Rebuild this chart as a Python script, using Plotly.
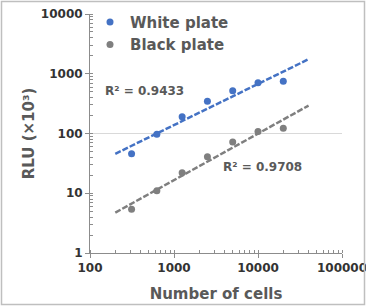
import numpy as np
import plotly.graph_objects as go

cells = [312.5, 625, 1250, 2500, 5000, 10000, 20000]
white_rlu = [46, 97, 190, 345, 520, 705, 750]
black_rlu = [5.4, 11, 22, 41, 72, 108, 122]
r2_white = "R² = 0.9433"
r2_black = "R² = 0.9708"
fit_range = [200, 40000]

BLUE = "#4472C4"
GRAY = "#7F7F7F"
TXT = "#595959"
FONT = "DejaVu Sans"


def power_fit(x, y, xr):
    b, a = np.polyfit(np.log10(x), np.log10(y), 1)
    xs = np.array(xr, dtype=float)
    return xs, 10 ** (a + b * np.log10(xs))


fig = go.Figure()
for vals, col, name in [(white_rlu, BLUE, "White plate"), (black_rlu, GRAY, "Black plate")]:
    fx, fy = power_fit(cells, vals, fit_range)
    fig.add_trace(go.Scatter(x=fx, y=fy, mode="lines", showlegend=False,
                             line=dict(color=col, width=2.5, dash="6px,2px"), hoverinfo="skip"))
for vals, col, name in [(white_rlu, BLUE, "White plate"), (black_rlu, GRAY, "Black plate")]:
    fig.add_trace(go.Scatter(x=cells, y=vals, mode="markers", name=name,
                             marker=dict(color=col, size=7)))

fig.add_hline(y=100, line=dict(color="#D9D9D9", width=1), layer="below")

fig.add_annotation(x=np.log10(143), y=np.log10(521), text=r2_white, showarrow=False,
                   xanchor="left", font=dict(family=FONT, size=12, color=TXT, weight="bold"))
fig.add_annotation(x=np.log10(3640), y=np.log10(28), text=r2_black, showarrow=False,
                   xanchor="left", font=dict(family=FONT, size=12, color=TXT, weight="bold"))

L, R, T, B = 90, 24, 14, 53
W, H = 366, 306
pw, ph = W - L - R, H - T - B
fig.add_shape(type="rect", xref="paper", yref="paper",
              x0=(1.5 - L) / pw, x1=(W - 1.5 - L) / pw,
              y0=-(B - 1.5) / ph, y1=1 + (T - 1.5) / ph,
              line=dict(color="#BFBFBF", width=1.5), fillcolor="rgba(0,0,0,0)")

axis_common = dict(type="log", showgrid=False, zeroline=False, showline=True,
                   linecolor="#8C8C8C", linewidth=1, ticklen=4, tickcolor="#8C8C8C",
                   automargin=False, ticklabeloverflow="allow", dtick=1,
                   tickformat="d",
                   tickfont=dict(family=FONT, size=12, color="#333333", weight="bold"))
fig.update_xaxes(range=[2, 5], ticks="outside",
                 minor=dict(ticks="inside", ticklen=3, dtick="D1", tickcolor="#8C8C8C"),
                 title=dict(text="Number of cells", standoff=14,
                            font=dict(family=FONT, size=15, color=TXT, weight="bold")),
                 **axis_common)
fig.update_yaxes(range=[0, 4], ticks="outside",
                 minor=dict(ticks="inside", ticklen=3, dtick="D1", tickcolor="#8C8C8C"),
                 title=dict(text="RLU (×10³)", standoff=2,
                            font=dict(family=FONT, size=15, color=TXT, weight="bold")),
                 **axis_common)

fig.update_layout(
    width=W, height=H, margin=dict(l=L, r=R, t=T, b=B, autoexpand=False),
    paper_bgcolor="white", plot_bgcolor="white",
    legend=dict(x=0.0, y=1.035, xanchor="left", yanchor="top", bgcolor="rgba(0,0,0,0)",
                font=dict(family=FONT, size=15, color=TXT, weight="bold"),
                tracegroupgap=0, itemwidth=30),
)
fig.write_html("out.html", config={"displayModeBar": False},
               post_script="document.body.style.margin='0';")
